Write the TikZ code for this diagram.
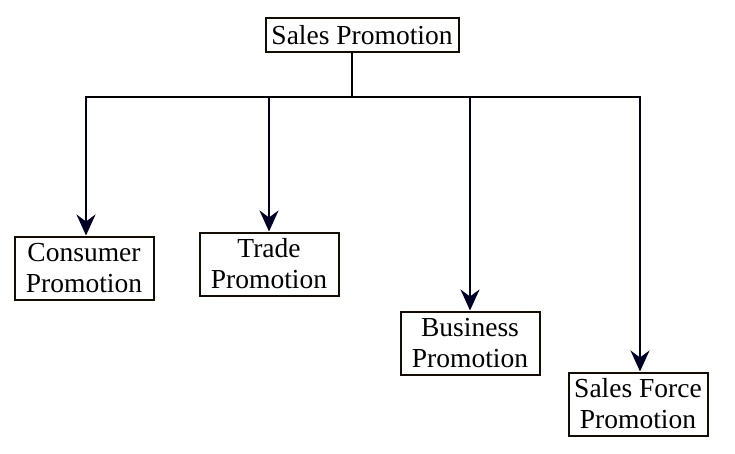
\documentclass[tikz,border=0pt]{standalone}
\usepackage{fontspec}
\setmainfont{Liberation Serif}
\usetikzlibrary{arrows.meta}

\begin{document}
\begin{tikzpicture}[
        x=1pt, y=-1pt,
        every node/.style = {draw=black!90!brown, line width=2pt, align=center,
                             font=\fontsize{27.5}{31}\selectfont, inner sep=1pt},
        promo/.style = {minimum width=139pt, minimum height=63pt},
        link/.style = {line width=2pt},
        arrow/.style = {link, -{Stealth[length=21pt, width=19pt, inset=7pt]}, black!85!blue},
      ]
      \useasboundingbox (0,0) rectangle (735,453);

      \node[minimum width=193pt, minimum height=34pt] (sales) at (362,35) {Sales Promotion};

      \node[promo] (consumer) at (84,268) {Consumer\\Promotion};
      \node[promo] (trade) at (269,264) {Trade\\Promotion};
      \node[promo] (business) at (470,343) {Business\\Promotion};
      \node[promo] (force) at (638,404) {Sales Force\\Promotion};

      % bus line
      \coordinate (bus) at (352,97);
      \coordinate (busleft) at (86,97);
      \coordinate (busright) at (640,97);
      \draw[link] (sales.south -| bus) -- (bus);
      \draw[link, line cap=rect] (busleft) -- (busright);

      \draw[arrow] (busleft) -- (busleft |- consumer.north);
      \draw[arrow] (trade.north |- bus) -- (trade.north);
      \draw[arrow] (business.north |- bus) -- (business.north);
      \draw[arrow] (busright) -- (busright |- force.north);

    \end{tikzpicture}
\end{document}
